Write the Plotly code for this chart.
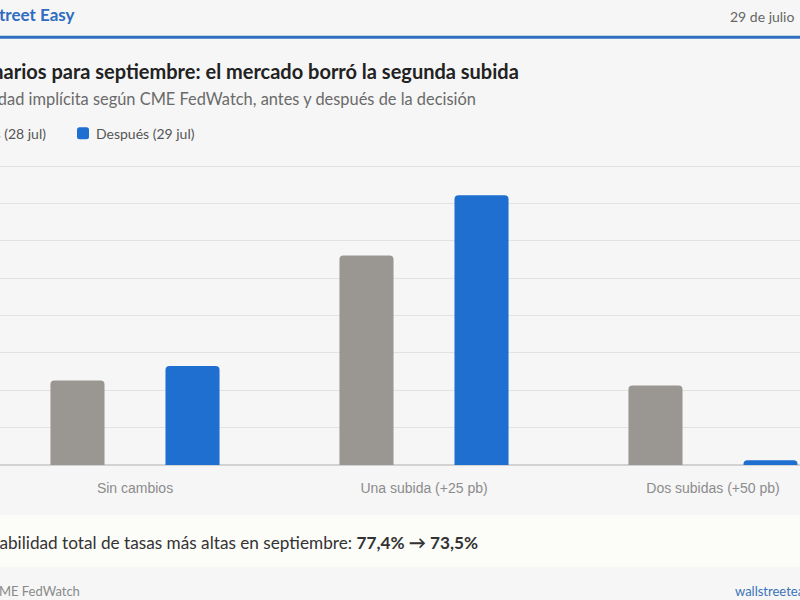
import plotly.graph_objects as go

# ---- data ----
categories = ["Sin cambios", "Una subida (+25 pb)", "Dos subidas (+50 pb)"]
antes = [22.6, 56.1, 21.3]      # Antes (28 jul)
despues = [26.5, 72.2, 1.3]     # Después (29 jul)
series_names = ["Antes (28 jul)", "Después (29 jul)"]
y_ticks = [0, 10, 20, 30, 40, 50, 60, 70, 80]

GRAY = "#9a9792"
BLUE = "#1f6fd1"
BG = "#f6f6f6"
FONT = "Lato, 'Noto Sans', sans-serif"

W, H = 800, 600
Y_MAX = 80.6
PLOT_BOT = 465
PX_PER_UNIT = 299 / 80.0
PLOT_TOP = PLOT_BOT - Y_MAX * PX_PER_UNIT


def px(x):
    return x / W


def py(y):
    return (PLOT_BOT - y) / (PLOT_BOT - PLOT_TOP)


fig = go.Figure()
fig.add_trace(go.Bar(x=categories, y=antes, name=series_names[0],
                     marker=dict(color=GRAY, line=dict(width=0)), showlegend=False,
                     hovertemplate="%{x}: %{y:.1f}%<extra>Antes</extra>"))
fig.add_trace(go.Bar(x=categories, y=despues, name=series_names[1],
                     marker=dict(color=BLUE, line=dict(width=0)), showlegend=False,
                     hovertemplate="%{x}: %{y:.1f}%<extra>Después</extra>"))

# category axis positioned so bands are 289 px wide, first centre at x=135
unit = 289.0
r0 = -135.0 / unit
r1 = r0 + W / unit

fig.update_layout(
    width=W, height=H,
    margin=dict(l=0, r=0, t=PLOT_TOP, b=H - PLOT_BOT, pad=0),
    paper_bgcolor=BG, plot_bgcolor=BG,
    barmode="group", bargap=0.204, bargroupgap=0.53,
    barcornerradius=4,
    font=dict(family=FONT, color="#555"),
    xaxis=dict(type="category", range=[r0, r1], showgrid=False, zeroline=False,
               showline=False, ticks="outside", ticklen=0, tickcolor=BG,
               ticklabelstandoff=10,
               tickfont=dict(family="'Liberation Sans', Arial, sans-serif", size=14, color="#8c8c8c"),
               fixedrange=True),
    yaxis=dict(range=[0, Y_MAX], tickvals=y_ticks, showticklabels=False,
               showgrid=True, gridcolor="#e2e2e2", gridwidth=1,
               zeroline=True, zerolinecolor="#d2d2d2", zerolinewidth=1.5,
               fixedrange=True),
    hovermode="closest",
)

shapes = []
# header rule
shapes.append(dict(type="line", xref="paper", yref="paper", x0=-0.01, x1=1.01,
                   y0=py(37), y1=py(37), line=dict(color="#2f6fc2", width=3)))
# summary box
shapes.append(dict(type="rect", xref="paper", yref="paper", x0=-0.01, x1=1.01,
                   y0=py(567), y1=py(515), fillcolor="#fcfcf9", line=dict(width=0),
                   layer="below"))


def swatch(x0, yc, color, s=12, r=2.5):
    x1, y0, y1 = x0 + s, yc - s / 2, yc + s / 2
    path = (f"M{px(x0 + r)},{py(y0)} L{px(x1 - r)},{py(y0)} Q{px(x1)},{py(y0)} {px(x1)},{py(y0 + r)} "
            f"L{px(x1)},{py(y1 - r)} Q{px(x1)},{py(y1)} {px(x1 - r)},{py(y1)} "
            f"L{px(x0 + r)},{py(y1)} Q{px(x0)},{py(y1)} {px(x0)},{py(y1 - r)} "
            f"L{px(x0)},{py(y0 + r)} Q{px(x0)},{py(y0)} {px(x0 + r)},{py(y0)} Z")
    return dict(type="path", xref="paper", yref="paper", path=path,
                fillcolor=color, line=dict(width=0))


shapes.append(swatch(-62, 133, GRAY))
shapes.append(swatch(77, 133, BLUE))
fig.update_layout(shapes=shapes)


def ann(text, x, y, anchor, size, color, weight="normal", family=FONT):
    return dict(text=text, xref="paper", yref="paper", x=px(x), y=py(y),
                xanchor=anchor, yanchor="middle", showarrow=False,
                font=dict(size=size, color=color, family=family, weight=weight))


anns = [
    ann("Wall Street Easy", 77, 14, "right", 17, "#2f6cbf", "bold"),
    ann("29 de julio", 796, 16, "right", 14, "#666666"),
    ann("Escenarios para septiembre: el mercado borró la segunda subida", 521, 71, "right", 20, "#222222", "bold"),
    ann("Probabilidad implícita según CME FedWatch, antes y después de la decisión", 478, 98, "right", 16.4, "#6a6a6a"),
    ann(series_names[0], 48, 133, "right", 14, "#555555"),
    ann(series_names[1], 94, 133, "left", 14, "#555555"),
    ann("Probabilidad total de tasas más altas en septiembre: <b>77,4% → 73,5%</b>", 480, 543, "right", 17.2, "#333333"),
    ann("Fuente: CME FedWatch", 82, 591, "right", 13, "#8a8a8a"),
    ann("wallstreeteasy.com", 733, 591, "left", 13, "#3a73b8"),
]
fig.update_layout(annotations=anns)

fig.write_html("out.html")
